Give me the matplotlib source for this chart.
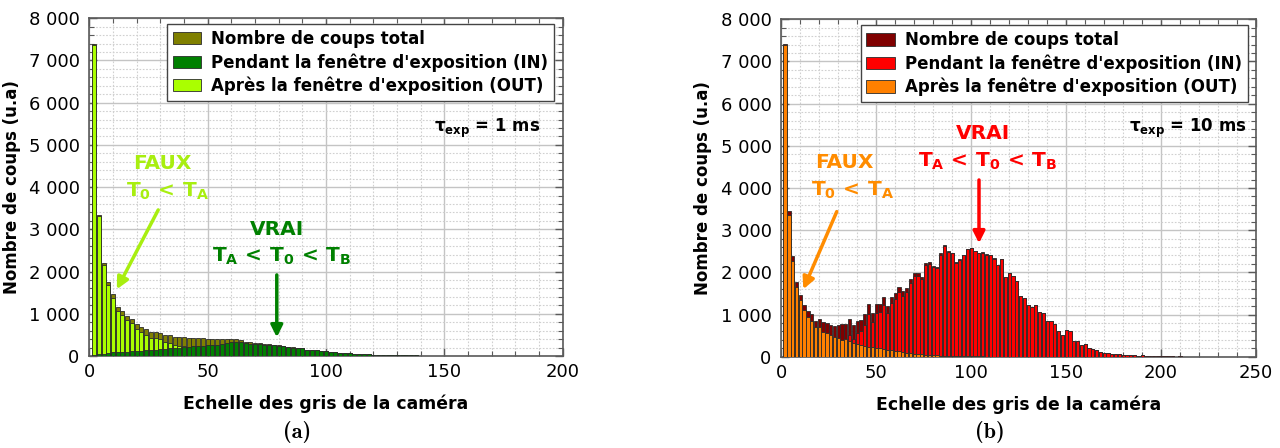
import numpy as np
import matplotlib
matplotlib.use("Agg")
import matplotlib.pyplot as plt
from matplotlib.ticker import MultipleLocator, FuncFormatter

plt.rcParams['font.family'] = ['DejaVu Sans']
plt.rcParams['mathtext.fontset'] = 'custom'
plt.rcParams['mathtext.rm'] = 'DejaVu Sans:bold'
plt.rcParams['mathtext.it'] = 'DejaVu Sans:bold'
plt.rcParams['mathtext.bf'] = 'DejaVu Sans:bold'

# ---------------- data : (a) t_exp = 1 ms ----------------
IN_1MS = [30, 40, 50, 70, 90, 95, 100, 106, 110, 118,
          125, 132, 142, 150, 158, 170, 180, 190, 200, 215,
          220, 225, 235, 240, 250, 258, 262, 290, 310, 320,
          330, 320, 300, 290, 290, 280, 270, 262, 255, 245,
          230, 215, 200, 180, 195, 150, 140, 138, 120, 115,
          90, 85, 70, 65, 60, 55, 42, 40, 38, 30,
          26, 24, 22, 20, 18, 16, 15, 14, 12, 8,
          5, 4, 4, 3, 3, 3, 2, 2, 2, 2,
          2, 2, 1, 1, 1]
OUT_1MS = [7370, 3310, 2145, 1680, 1370, 1075, 965, 850, 775, 640,
           570, 500, 435, 427, 395, 335, 318, 268, 242, 225,
           200, 195, 180, 180, 160, 145, 140, 110, 85, 80,
           70, 50, 40, 30, 25, 20, 15, 12, 10, 8,
           6, 5, 4, 3, 3, 2, 2, 2, 2, 1,
           1, 1, 1, 1, 0, 0, 0, 0, 0, 0,
           0, 0, 0, 0, 0, 0, 0, 0, 0, 0,
           0, 0, 0, 0, 0, 0, 0, 0, 0, 0,
           0, 0, 0, 0, 0]

# ---------------- data : (b) t_exp = 10 ms ----------------
IN_10MS = [20, 100, 130, 115, 115, 125, 145, 155, 145, 195,
           230, 235, 240, 260, 325, 380, 355, 510, 430, 555,
           600, 755, 1010, 815, 1035, 1050, 1220, 1030, 1265, 1360,
           1535, 1445, 1540, 1750, 1915, 1910, 1840, 2167, 2203, 2124,
           2104, 2423, 2617, 2480, 2448, 2221, 2298, 2410, 2552, 2568,
           2509, 2460, 2470, 2421, 2401, 2327, 2172, 2307, 1893, 1973,
           1913, 1793, 1439, 1384, 1224, 1184, 1224, 1065, 1030, 855,
           845, 775, 610, 515, 630, 615, 380, 375, 280, 295,
           215, 180, 160, 120, 80, 80, 63, 55, 55, 47,
           40, 40, 32, 24, 32, 16, 8, 24, 5, 8,
           24, 24, 5, 3, 5, 3, 3, 3, 3, 3]
OUT_10MS = [7390, 3360, 2260, 1645, 1345, 1105, 935, 855, 710, 695,
            585, 555, 520, 475, 435, 395, 410, 380, 315, 300,
            270, 255, 240, 230, 215, 200, 185, 170, 155, 140,
            125, 110, 95, 85, 75, 65, 55, 48, 42, 36,
            31, 27, 23, 20, 17, 14, 12, 10, 8, 7,
            6, 5, 5, 4, 4, 3, 3, 3, 2, 2,
            2, 2, 1, 1, 1, 1, 1, 0, 0, 0,
            0, 0, 0, 0, 0, 0, 0, 0, 0, 0,
            0, 0, 0, 0, 0, 0, 0, 0, 0, 0,
            0, 0, 0, 0, 0, 0, 0, 0, 0, 0,
            0, 0, 0, 0, 0, 0, 0, 0, 0, 0]

LABELS = ["Nombre de coups total",
          "Pendant la fenêtre d'exposition (IN)",
          "Après la fenêtre d'exposition (OUT)"]
XLABEL = "Echelle des gris de la caméra"
YLABEL = "Nombre de coups (u.a)"

COL_1MS = {"total": "#808000", "in": "#008000", "out": "#aaff00"}
COL_10MS = {"total": "#800000", "in": "#ff0000", "out": "#ff8000"}

EDGE = "#2b2b2b"
BW = 1.7


def style_axes(ax, xmax):
    ax.set_xlim(0, xmax)
    ax.set_ylim(0, 8000)
    ax.xaxis.set_major_locator(MultipleLocator(50))
    ax.xaxis.set_minor_locator(MultipleLocator(10))
    ax.yaxis.set_major_locator(MultipleLocator(1000))
    ax.yaxis.set_minor_locator(MultipleLocator(200))
    ax.yaxis.set_major_formatter(FuncFormatter(lambda v, p: f"{int(v):,}".replace(",", " ")))
    ax.grid(which='major', color='#c4c4c4', lw=1.0, ls='-')
    ax.grid(which='minor', color='#d0d0d0', lw=0.8, ls=(0, (1.5, 1.5)))
    ax.set_axisbelow(True)
    for s in ax.spines.values():
        s.set_color('#5a5a5a')
        s.set_linewidth(1.2)
    ax.tick_params(which='both', direction='in', top=True, right=True,
                   color='#5a5a5a', labelsize=13)
    ax.tick_params(which='major', length=6, width=1.0)
    ax.tick_params(which='minor', length=3.5, width=0.8)
    ax.tick_params(axis='x', which='major', pad=5)
    ax.tick_params(axis='y', which='major', pad=7)
    ax.set_xlabel(XLABEL, fontsize=12.4, fontweight='bold')
    ax.set_ylabel(YLABEL, fontsize=12, fontweight='bold')
    ax.xaxis.set_label_coords(0.5, -0.115)
    ax.yaxis.set_label_coords(-0.145, 0.5)


def draw(ax, IN, OUT, cols, front_in):
    IN = np.asarray(IN, float)
    OUT = np.asarray(OUT, float)
    x = np.arange(2, 2 * len(IN) + 1, 2)
    total = IN + OUT
    b_tot = ax.bar(x, total, width=BW, color=cols["total"], edgecolor=EDGE, lw=0.6, zorder=2)
    if front_in:
        b_out = ax.bar(x, OUT, width=BW, color=cols["out"], edgecolor=EDGE, lw=0.6, zorder=3)
        b_in = ax.bar(x, IN, width=BW, color=cols["in"], edgecolor=EDGE, lw=0.6, zorder=4)
    else:
        b_in = ax.bar(x, IN, width=BW, color=cols["in"], edgecolor=EDGE, lw=0.6, zorder=3)
        b_out = ax.bar(x, OUT, width=BW, color=cols["out"], edgecolor=EDGE, lw=0.6, zorder=4)
    leg = ax.legend([b_tot, b_in, b_out], LABELS, loc='upper right',
                    bbox_to_anchor=(0.982, 0.982), borderaxespad=0,
                    prop={'weight': 'bold', 'size': 12}, fancybox=False,
                    edgecolor='#444444', framealpha=1, handlelength=1.7,
                    handleheight=0.75, labelspacing=0.3, borderpad=0.35,
                    handletextpad=0.6)
    leg.get_frame().set_linewidth(1.0)
    leg.set_zorder(10)


fig = plt.figure(figsize=(12.8, 4.48), dpi=100)
axL = fig.add_axes([0.0698, 0.2054, 0.3698, 0.7538])
axR = fig.add_axes([0.6104, 0.2038, 0.3709, 0.7531])

style_axes(axL, 200)
style_axes(axR, 250)
draw(axL, IN_1MS, OUT_1MS, COL_1MS, front_in=True)
draw(axR, IN_10MS, OUT_10MS, COL_10MS, front_in=False)

AP = dict(arrowstyle='-|>,head_length=0.7,head_width=0.35', lw=2.5, shrinkA=0, shrinkB=0)

# annotations (a)
faux_l = "#a8ee10"
axL.text(30.8, 4550, "FAUX", color=faux_l, fontsize=14.5, fontweight='bold', ha='center', va='center')
axL.text(33, 3890, r"$T_0\,<\,T_A$", color=faux_l, fontsize=14.5, ha='center', va='center')
axL.annotate("", xy=(11.6, 1580), xytext=(29.1, 3460), arrowprops=dict(AP, color=faux_l))
axL.text(79.2, 2986, "VRAI", color="#008000", fontsize=14.5, fontweight='bold', ha='center', va='center')
axL.text(81.3, 2353, r"$T_A\,<\,T_0\,<\,T_B$", color="#008000", fontsize=14.5, ha='center', va='center')
axL.annotate("", xy=(79.2, 443), xytext=(79.2, 1920), arrowprops=dict(AP, color="#008000"))
axL.text(168, 5400, r"$\tau_{exp}$ = 1 ms", color="black", fontsize=12, fontweight='bold', ha='center', va='center')

# annotations (b)
faux_r = "#ff8c00"
axR.text(33.1, 4610, "FAUX", color=faux_r, fontsize=14.5, fontweight='bold', ha='center', va='center')
axR.text(37.7, 3954, r"$T_0\,<\,T_A$", color=faux_r, fontsize=14.5, ha='center', va='center')
axR.annotate("", xy=(11.6, 1600), xytext=(29.2, 3440), arrowprops=dict(AP, color=faux_r))
axR.text(106.4, 5300, "VRAI", color="#ff0000", fontsize=14.5, fontweight='bold', ha='center', va='center')
axR.text(108.5, 4625, r"$T_A\,<\,T_0\,<\,T_B$", color="#ff0000", fontsize=14.5, ha='center', va='center')
axR.annotate("", xy=(104.1, 2690), xytext=(104.1, 4190), arrowprops=dict(AP, color="#ff0000"))
axR.text(214, 5425, r"$\tau_{exp}$ = 10 ms", color="black", fontsize=12, fontweight='bold', ha='center', va='center')

fig.text(297 / 1280, 1 - 432 / 448, "(a)", fontfamily='cmb10', fontsize=16, ha='center', va='center')
fig.text(990 / 1280, 1 - 432 / 448, "(b)", fontfamily='cmb10', fontsize=16, ha='center', va='center')

fig.savefig("out.png", dpi=100)
